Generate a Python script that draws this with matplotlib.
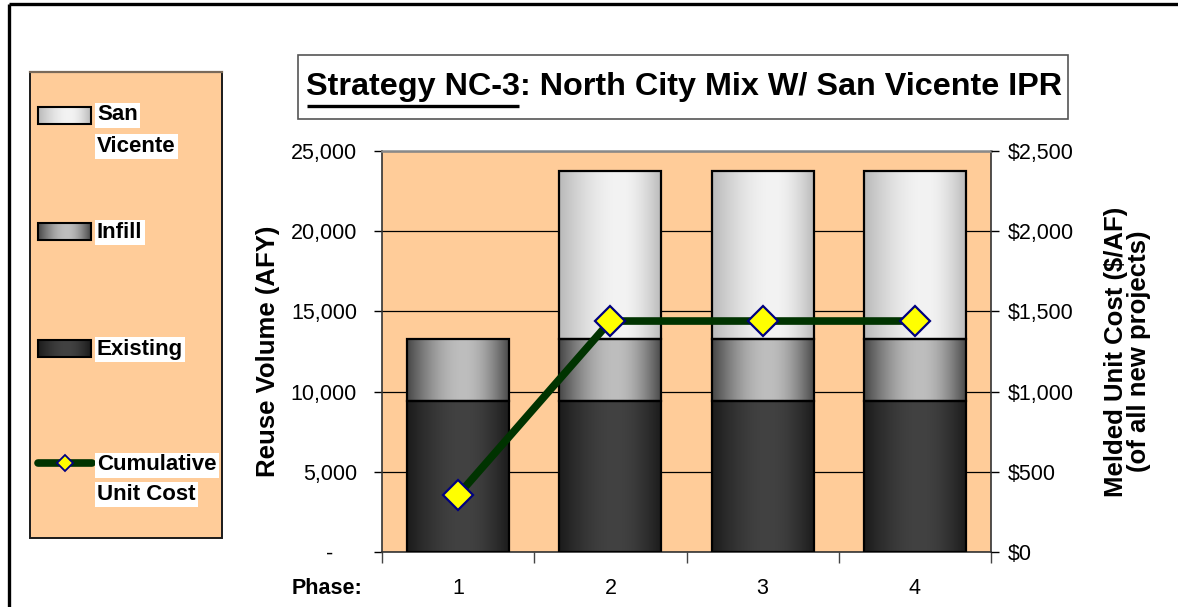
import numpy as np
import matplotlib
matplotlib.use("Agg")
import matplotlib.pyplot as plt
from matplotlib import font_manager as fm
from matplotlib.patches import Rectangle
from matplotlib.lines import Line2D
from matplotlib.ticker import FixedLocator, FuncFormatter

# ---------------- data ----------------
phases = ["1", "2", "3", "4"]
existing = [9400, 9400, 9400, 9400]
infill = [3850, 3850, 3850, 3850]
san_vicente = [0, 10500, 10500, 10500]
unit_cost = [355, 1440, 1440, 1440]
left_ticks = [0, 5000, 10000, 15000, 20000, 25000]
right_ticks = [0, 500, 1000, 1500, 2000, 2500]


def has_font(name):
    try:
        fm.findfont(fm.FontProperties(family=name), fallback_to_default=False)
        return True
    except Exception:
        return False


NARROW_OK = has_font("Liberation Sans Narrow")
NARROW = "Liberation Sans Narrow" if NARROW_OK else "Liberation Sans"
SANS = "Liberation Sans"
TICK_FS = 18 if NARROW_OK else 15.5

W, H = 1178, 607
fig = plt.figure(figsize=(W / 100, H / 100), dpi=100)
fig.patch.set_facecolor("white")

PEACH = "#FFCC99"

# overlay axes in pixel coordinates for frame, title box, legend
ov = fig.add_axes([0, 0, 1, 1], zorder=0)
ov.axis("off")

# outer border (top and left)
ov.add_line(Line2D([8.5, W], [3.5, 3.5], color="black", lw=2.4, solid_capstyle="butt"))
ov.add_line(Line2D([8.5, 8.5], [3.5, H], color="black", lw=2.4, solid_capstyle="butt"))

# main axes
L, R, T, B = 382, 991, 151, 552
ax = fig.add_axes([L / W, (H - B) / H, (R - L) / W, (B - T) / H], zorder=1)
ax.set_facecolor(PEACH)
x = np.arange(len(phases))
bw = 0.67


def gradient(edge, center, peak=0.55, n=256):
    t = np.linspace(0, 1, n)
    w = np.where(t < peak, t / peak, (1 - t) / (1 - peak))
    w = np.sin(w * np.pi / 2)
    e = np.array(matplotlib.colors.to_rgb(edge))
    c = np.array(matplotlib.colors.to_rgb(center))
    return (e + (c - e) * w[:, None])[None, :, :]


G_EXIST = gradient("#1b1b1b", "#424242")
G_INFILL = gradient("#474747", "#bebebe")
G_SV = gradient("#b9b9b9", "#f3f3f3", peak=0.6)

bottoms1 = np.array(existing)
bottoms2 = bottoms1 + np.array(infill)
series = [
    (existing, np.zeros(len(x)), G_EXIST),
    (infill, bottoms1, G_INFILL),
    (san_vicente, bottoms2, G_SV),
]
for vals, bot, g in series:
    bars = ax.bar(x, vals, bottom=bot, width=bw, facecolor="none",
                  edgecolor="black", linewidth=1.6, zorder=3)
    for p in bars.patches:
        if p.get_height() <= 0:
            p.set_visible(False)
            continue
        x0, y0 = p.get_x(), p.get_y()
        ax.imshow(g, extent=(x0, x0 + p.get_width(), y0, y0 + p.get_height()),
                  aspect="auto", interpolation="bilinear", zorder=2)

ax.set_xlim(-0.5, len(x) - 0.5)
ax.set_ylim(0, 25000)
ax.set_aspect("auto")
ax.yaxis.set_major_locator(FixedLocator(left_ticks))
ax.yaxis.set_major_formatter(FuncFormatter(lambda v, p: "-    " if v == 0 else f"{int(v):,}"))
ax.grid(axis="y", color="black", lw=0.9)
ax.set_axisbelow(True)
ax.xaxis.set_major_locator(FixedLocator(np.arange(len(x) + 1) - 0.5))
ax.xaxis.set_major_formatter(FuncFormatter(lambda v, p: ""))
ax.xaxis.set_minor_locator(FixedLocator(x))
ax.xaxis.set_minor_formatter(FuncFormatter(lambda v, p: phases[int(round(v))]))
ax.tick_params(axis="x", which="major", direction="out", length=8, width=1, color="#444444")
ax.tick_params(axis="x", which="minor", length=0, pad=19, labelsize=TICK_FS)
ax.tick_params(axis="y", direction="out", length=6, width=1, pad=12, labelsize=TICK_FS)
for lbl in ax.get_xticklabels(minor=True) + ax.get_yticklabels():
    lbl.set_family(NARROW)
for s in ["left", "bottom"]:
    ax.spines[s].set_color("#333333")
    ax.spines[s].set_linewidth(1.2)
ax.spines["top"].set_color("#8a8a8a")
ax.spines["top"].set_linewidth(1.8)
ax.spines["right"].set_color("#333333")
ax.spines["right"].set_linewidth(1.2)

ax.set_ylabel("Reuse Volume (AFY)", family=SANS, fontweight="bold", fontsize=18.5, labelpad=8)

ax2 = ax.twinx()
ax2.set_ylim(0, 2500)
ax2.yaxis.set_major_locator(FixedLocator(right_ticks))
ax2.yaxis.set_major_formatter(FuncFormatter(lambda v, p: f"${int(v):,}"))
ax2.tick_params(axis="y", direction="out", length=6, width=1, pad=6, labelsize=TICK_FS)
for lbl in ax2.get_yticklabels():
    lbl.set_family(NARROW)
for s in ax2.spines.values():
    s.set_visible(False)
ax2.plot(x, unit_cost, color="#003300", lw=5.5, marker="D", ms=15,
         mfc="#FFFF00", mec="#000080", mew=1.6, zorder=5, solid_capstyle="round")
ax2.set_ylabel("Melded Unit Cost ($/AF)\n(of all new projects)", family=SANS,
               fontweight="bold", fontsize=18.5, labelpad=22, linespacing=0.95)

# "Phase:" label
ov.text(327, 588, "Phase:", family=NARROW, fontweight="bold", fontsize=TICK_FS,
        ha="center", va="center")

# ---------------- title box ----------------
ov.add_patch(Rectangle((298, 55), 770, 64, facecolor="white", edgecolor="#555555", lw=1.2))
TITLE_FS = 27 if NARROW_OK else 23.3
ov.set_xlim(0, W)
ov.set_ylim(H, 0)
t1 = ov.text(306, 95, "Strategy NC-3", family=NARROW, fontweight="bold",
             fontsize=TITLE_FS, ha="left", va="baseline")
renderer = fig.canvas.get_renderer()
bb1 = t1.get_window_extent(renderer)
t2 = ov.text(bb1.x1, 95, ": North City Mix W/ San Vicente IPR", family=NARROW,
             fontweight="bold", fontsize=TITLE_FS, ha="left", va="baseline")
ov.add_line(Line2D([bb1.x0 + 1, bb1.x1 - 1], [106, 106], color="black", lw=2.4,
                   solid_capstyle="butt"))

# ---------------- legend box ----------------
ov.add_patch(Rectangle((30, 72), 192, 466, facecolor=PEACH, edgecolor="#1a1a1a", lw=1.4))
ov.add_line(Line2D([30, 222], [72, 72], color="#7a6a5a", lw=1.6))

swatches = [(107, G_SV), (223, G_INFILL), (340, G_EXIST)]
for y0, g in swatches:
    ov.imshow(g, extent=(38, 91, y0 + 17, y0), aspect="auto", interpolation="bilinear", zorder=2)
    ov.add_patch(Rectangle((38, y0), 53, 17, facecolor="none", edgecolor="black", lw=1.5, zorder=3))
ov.set_xlim(0, W)
ov.set_ylim(H, 0)

ov.add_line(Line2D([38, 92], [463, 463], color="#003300", lw=5.5, solid_capstyle="round", zorder=3))
ov.add_line(Line2D([65], [463], marker="D", ms=8.5, mfc="#FFFF00", mec="#000080", mew=1.3,
                   lw=0, zorder=4))

leg_texts = [("San", 115), ("Vicente", 146), ("Infill", 232), ("Existing", 349),
             ("Cumulative", 465), ("Unit Cost", 494)]
for s, yy in leg_texts:
    ov.text(97, yy, s, family=SANS, fontweight="bold", fontsize=16, ha="left", va="center",
            bbox=dict(facecolor="white", edgecolor="none", pad=1.5), zorder=5)

fig.savefig("out.png", dpi=100, facecolor="white")
